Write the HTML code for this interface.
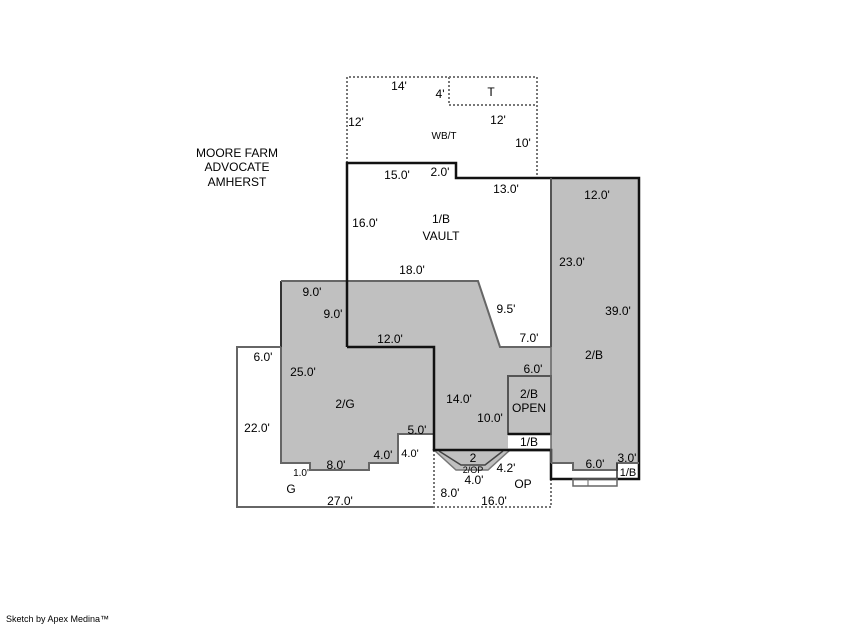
<!DOCTYPE html>
<html><head><meta charset="utf-8"><style>
html,body{margin:0;padding:0;background:#fff;}
svg{display:block;}
text{font-family:"Liberation Sans",Arial,sans-serif;font-size:12px;fill:#000;}
</style></head><body>
<svg width="853" height="625" viewBox="0 0 853 625" xmlns="http://www.w3.org/2000/svg">
<!-- gray fills -->
<polygon points="281,281 478,281 500,347 551,347 551,178 639,178 639,463 617,463 617,470 573,470 573,463 551,463 551,450 434,450 434,434 398,434 398,463 369,463 369,470 310,470 310,463 281,463" fill="#c0c0c0"/>
<rect x="508" y="434" width="43" height="16" fill="#fff"/>
<rect x="508" y="376" width="43" height="58" fill="#c0c0c0" stroke="#555" stroke-width="2"/>
<!-- 2/G outline -->
<polyline points="281,347 281,463 310,463 310,470 369,470 369,463 398,463 398,434 434,434" fill="none" stroke="#666" stroke-width="2"/>
<line x1="281" y1="281" x2="281" y2="347" stroke="#333" stroke-width="2"/>
<polyline points="281,281 478,281 500,347 551,347" fill="none" stroke="#666" stroke-width="2"/>
<!-- garage -->
<polyline points="281,347 237,347 237,507 434,507" fill="none" stroke="#666" stroke-width="2"/>
<!-- OP dotted -->
<polyline points="434,450 434,507 551,507 551,479" fill="none" stroke="#777" stroke-width="2" stroke-dasharray="2,2"/>
<!-- bay -->
<polygon points="434,450 456,470 488,470 510,450" fill="#c0c0c0" stroke="#777" stroke-width="1.5"/>
<polyline points="439,451 461,465 485,465 503,451" fill="none" stroke="#444" stroke-width="1.5"/>
<!-- WB/T dotted -->
<polyline points="347,163 347,77 537,77 537,178" fill="none" stroke="#777" stroke-width="2" stroke-dasharray="2,2"/>
<polyline points="449,77 449,105 537,105" fill="none" stroke="#777" stroke-width="2" stroke-dasharray="2,2"/>
<!-- thick main outline -->
<polyline points="347,347 347,163 456,163 456,178 639,178 639,479 551,479 551,450 508,450" fill="none" stroke="#111" stroke-width="2.5"/>
<polyline points="347,347 434,347 434,450 551,450" fill="none" stroke="#111" stroke-width="2.5"/>
<line x1="508" y1="434" x2="551" y2="434" stroke="#111" stroke-width="2.5"/>
<line x1="551" y1="178" x2="551" y2="347" stroke="#555" stroke-width="2"/>
<line x1="551" y1="347" x2="551" y2="463" stroke="#666" stroke-width="1.5"/>
<!-- bottom right notch -->
<polyline points="551,463 573,463 573,470 617,470 617,463 639,463" fill="none" stroke="#666" stroke-width="2"/>
<line x1="617" y1="463" x2="617" y2="479" stroke="#333" stroke-width="1.5"/>
<rect x="573" y="479" width="44" height="7" fill="none" stroke="#666" stroke-width="1.5"/>
<line x1="588" y1="479" x2="588" y2="486" stroke="#666" stroke-width="1"/>

<!-- labels -->
<g text-anchor="middle">
<text x="237" y="157">MOORE FARM</text>
<text x="237" y="171">ADVOCATE</text>
<text x="237" y="186">AMHERST</text>
<text x="399" y="90">14'</text>
<text x="440" y="98">4'</text>
<text x="491" y="96">T</text>
<text x="356" y="126">12'</text>
<text x="498" y="124">12'</text>
<text x="444" y="139" style="font-size:10px">WB/T</text>
<text x="523" y="147">10'</text>
<text x="397" y="179">15.0'</text>
<text x="440" y="176">2.0'</text>
<text x="506" y="193">13.0'</text>
<text x="597" y="199">12.0'</text>
<text x="365" y="227">16.0'</text>
<text x="441" y="223">1/B</text>
<text x="441" y="240">VAULT</text>
<text x="412" y="274">18.0'</text>
<text x="572" y="266">23.0'</text>
<text x="312" y="296">9.0'</text>
<text x="333" y="318">9.0'</text>
<text x="506" y="313">9.5'</text>
<text x="618" y="315">39.0'</text>
<text x="390" y="343">12.0'</text>
<text x="529" y="342">7.0'</text>
<text x="594" y="359">2/B</text>
<text x="263" y="361">6.0'</text>
<text x="533" y="373">6.0'</text>
<text x="303" y="376">25.0'</text>
<text x="529" y="398">2/B</text>
<text x="529" y="412">OPEN</text>
<text x="459" y="403">14.0'</text>
<text x="345" y="408">2/G</text>
<text x="490" y="422">10.0'</text>
<text x="257" y="432">22.0'</text>
<text x="417" y="434">5.0'</text>
<text x="529" y="446">1/B</text>
<text x="410" y="457" style="font-size:11px">4.0'</text>
<text x="383" y="459">4.0'</text>
<text x="473" y="462">2</text>
<text x="473" y="473" style="font-size:9px">2/OP</text>
<text x="506" y="472">4.2'</text>
<text x="595" y="468">6.0'</text>
<text x="627" y="462">3.0'</text>
<text x="628" y="476" style="font-size:11px">1/B</text>
<text x="301" y="476" style="font-size:10px">1.0'</text>
<text x="336" y="469">8.0'</text>
<text x="474" y="484">4.0'</text>
<text x="523" y="488">OP</text>
<text x="291" y="493">G</text>
<text x="450" y="497">8.0'</text>
<text x="340" y="505">27.0'</text>
<text x="494" y="505">16.0'</text>
</g>
<text x="6" y="622" style="font-size:9px">Sketch by Apex Medina™</text>
</svg>
</body></html>
